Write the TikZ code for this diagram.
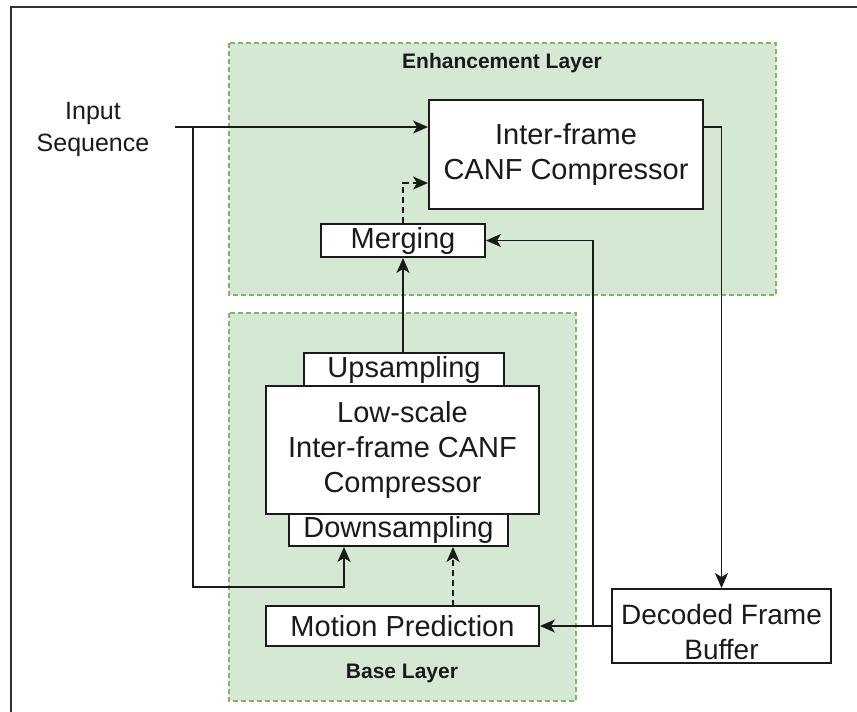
\documentclass[tikz,border=0pt]{standalone}
\usepackage{fontspec}
\setmainfont{Liberation Sans}
\usetikzlibrary{arrows.meta,calc}
\definecolor{layerfill}{HTML}{D5E8D4}
\definecolor{layerline}{HTML}{82B366}
\definecolor{ink}{HTML}{1A1A1A}
\begin{document}
\begin{tikzpicture}[x=1pt,y=-1pt,
  box/.style={draw=ink,fill=white,line width=1.9pt,inner sep=0pt,align=center,
    text=ink,font=\fontsize{29}{35}\selectfont},
  boxtext/.style={inner sep=0pt,align=center,text=ink,font=\fontsize{28}{35}\selectfont},
  arr/.style={draw=ink,line width=1.8pt,-{Stealth[length=15pt,width=13pt,inset=4pt]}},
  dashline/.style={dash pattern=on 6pt off 4pt},
  layer/.style={fill=layerfill,draw=layerline,line width=1.3pt,dash pattern=on 5pt off 3pt},
  title/.style={text=ink,font=\bfseries\fontsize{21}{25}\selectfont}]
\useasboundingbox (0,0) rectangle (857,712);
\fill[white] (0,0) rectangle (857,712);

% outer frame (runs off the right and bottom edges)
\draw[draw=ink!90,line width=2pt] (857,7) -- (11,7) -- (11,712);

% layer panels
\draw[layer] (229,43) rectangle (776,295);
\draw[layer] (229,313) rectangle (576,701);
\node[title] (enhT) at (502,63) {Enhancement Layer};
\node[title] (baseT) at (402,673) {Base Layer};

% blocks
\node[boxtext,font=\fontsize{25}{32}\selectfont] (input) at (93,129) {Input\\Sequence};
\node[box,minimum width=274pt,minimum height=109pt] (inter) at (566,154.5) {Inter-frame\\CANF Compressor};
\node[box,minimum width=164pt,minimum height=33pt] (merge) at (403,240.5) {Merging};
\node[box,minimum width=200pt,minimum height=33pt] (up) at (404,369.5) {Upsampling};
\node[box,minimum width=273pt,minimum height=128pt] (low) at (402.5,450) {Low-scale\\Inter-frame CANF\\Compressor};
\node[box,minimum width=219pt,minimum height=32pt] (down) at (398.5,530) {Downsampling};
\node[box,minimum width=273pt,minimum height=40pt] (mp) at (402.5,626) {Motion Prediction};
\node[box,minimum width=219pt,minimum height=74pt] (dec) at (721.5,626) {};
\node[boxtext] (decT) at (721.5,632) {Decoded Frame\\Buffer};

% routing points
\coordinate (inS) at (175,127);
\coordinate (br1) at (193,127);
\coordinate (c1) at (344,587);
\coordinate (m2) at (403,183);
\coordinate (br2) at (593,626);
\coordinate (c2) at (453,606);
\coordinate (outS) at (703,127);

% connectors
\draw[arr] (inS) -- (inS -| inter.west);
\draw[arr] (br1) |- (c1) -- (c1 |- down.south);
\draw[arr,dashline] (merge.north) -- (m2) -- (m2 -| inter.west);
\draw[arr] (up.north -| merge.south) -- (merge.south);
\draw[arr] (outS) -| (dec.north);
\draw[arr] (dec.west) -- (mp.east);
\draw[arr] (br2) |- (merge.east);
\draw[arr,dashline] (c2) -- (c2 |- down.south);
\end{tikzpicture}
\end{document}
